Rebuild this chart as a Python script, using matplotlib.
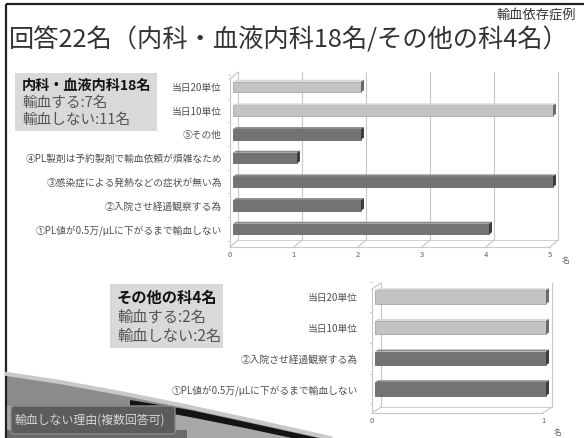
"""
Transfusion survey slide: reasons for not transfusing (two 3D-style bar panels)
"""

import matplotlib.pyplot as plt
from matplotlib.patches import Polygon, FancyBboxPatch, Rectangle

plt.rcParams['font.family'] = ['Noto Sans CJK JP', 'DejaVu Sans']

# --- data -------------------------------------------------------------
top_labels = ['①PL値が0.5万/μLに下がるまで輸血しない', '②入院させ経過観察する為',
              '③感染症による発熱などの症状が無い為', '④PL製剤は予約製剤で輸血依頼が煩雑なため',
              '⑤その他', '当日10単位', '当日20単位']
top_values = [4, 2, 5, 1, 2, 5, 2]
top_light = [False, False, False, False, False, True, True]
top_ticks = [0, 1, 2, 3, 4, 5]

bottom_labels = ['①PL値が0.5万/μLに下がるまで輸血しない', '②入院させ経過観察する為',
                 '当日10単位', '当日20単位']
bottom_values = [1, 1, 1, 1]
bottom_light = [False, False, True, True]
bottom_ticks = [0, 1]

top_box = ['内科・血液内科18名', '輸血する:7名', '輸血しない:11名']
bottom_box = ['その他の科4名', '輸血する:2名', '輸血しない:2名']

title = '回答22名（内科・血液内科18名/その他の科4名）'
subtitle = '輸血依存症例'
badge = '輸血しない理由(複数回答可)'

W, H = 584, 438
fig = plt.figure(figsize=(W / 100, H / 100), dpi=100)
fig.patch.set_facecolor('white')

# background layer in pixel coordinates
bg = fig.add_axes([0, 0, 1, 1], zorder=0)
bg.set_xlim(0, W)
bg.set_ylim(H, 0)
bg.axis('off')

# slide frame
bg.plot([6, W], [4, 4], color='#222222', lw=1.6, solid_capstyle='butt')
bg.plot([6, 6], [4, H], color='#222222', lw=1.6, solid_capstyle='butt')

# swoosh in the lower left corner
top_curve = [(7, 374), (60, 382), (120, 393), (180, 405), (240, 418), (290, 429), (330, 438)]
bg.add_patch(Polygon(top_curve + [(7, 438)], closed=True, fc='#8c8c8c', ec='none'))
bg.plot(*zip(*top_curve), color='#c8c8c8', lw=3)
band_top = [(130, 400), (190, 410), (250, 423), (300, 434), (318, 438)]
band_bot = [(292, 438), (245, 428), (190, 417), (130, 406)]
bg.add_patch(Polygon(band_bot + [(7, 406), (7, 438)], closed=True, fc='#a8a8a8', ec='none'))
bg.add_patch(Polygon(band_top + band_bot, closed=True, fc='#141414', ec='none'))
bg.add_patch(Rectangle((7, 430), 180, 8, fc='#6a6a6a', ec='none'))
bg.add_patch(FancyBboxPatch((11, 406), 164, 28, boxstyle='round,pad=0,rounding_size=3',
                            fc='#5c5c5c', ec='#8a8a8a', lw=1))
bg.text(15, 420, badge, fontsize=8.6, color='#d6d6d6', va='center', ha='left')

# title block
bg.text(576, 15, subtitle, fontsize=9.5, color='#333333', ha='right', va='center')
bg.text(9, 40, title, fontsize=18.2, color='#333333', ha='left', va='center')

# summary boxes
bg.add_patch(Rectangle((15, 73), 142, 58, fc='#d9d9d9', ec='none'))
bg.text(22, 86, top_box[0], fontsize=10.2, weight='bold', color='#111111', va='center')
bg.text(22, 103, top_box[1], fontsize=10.5, color='#555555', va='center')
bg.text(22, 120, top_box[2], fontsize=10.5, color='#555555', va='center')

bg.add_patch(Rectangle((110, 284), 113, 64, fc='#d9d9d9', ec='none'))
bg.text(117, 298, bottom_box[0], fontsize=11, weight='bold', color='#111111', va='center')
bg.text(117, 317, bottom_box[1], fontsize=11, color='#555555', va='center')
bg.text(117, 336, bottom_box[2], fontsize=11, color='#555555', va='center')


def draw_panel(box, x0, ux, row0, uy, labels, values, light, ticks,
               floor_px, top_px, dx_px, dy_px, bar_px, label_right):
    left, top, right, bottom = box
    ax = fig.add_axes([left / W, 1 - bottom / H, (right - left) / W, (bottom - top) / H],
                      zorder=2)
    ax.set_xlim((left - x0) / ux, (right - x0) / ux)
    ax.set_ylim((row0 - bottom) / uy, (row0 - top) / uy)
    ax.patch.set_alpha(0)
    for s in ax.spines.values():
        s.set_visible(False)

    dx, dy = dx_px / ux, dy_px / uy
    yf = (row0 - floor_px) / uy
    yb = yf + dy
    yt = (row0 - top_px) / uy
    grid = '#c6c6c6'

    # back wall gridlines and floor
    for t in ticks:
        ax.plot([t + dx, t + dx], [yb, yt], color=grid, lw=0.8)
        ax.plot([t, t + dx], [yf, yb], color=grid, lw=0.8)
    ax.plot([ticks[0], ticks[-1]], [yf, yf], color=grid, lw=0.8)
    ax.plot([ticks[0] + dx, ticks[-1] + dx], [yb, yb], color=grid, lw=0.6)
    # left wall
    ax.plot([0, 0], [yf, yt - dy], color=grid, lw=0.8)
    ax.plot([0, dx], [yt - dy, yt], color=grid, lw=0.8)
    for i in range(len(values) + 1):
        yy = i - 0.5
        ax.plot([-2 / ux, 0], [yy, yy], color=grid, lw=0.6)

    # bars with a small top face and a dark end face
    h = bar_px / uy
    ox = 3 / ux
    cx, cy = 3 / ux, 2 / uy
    ys = range(len(values))
    cols = ['#c3c3c3' if lt else '#737373' for lt in light]
    ax.barh(ys, values, left=ox, height=h, color=cols,
            edgecolor=['#9a9a9a' if lt else '#555555' for lt in light], lw=0.5, zorder=3)
    for y, v, lt in zip(ys, values, light):
        e = v + ox
        ax.add_patch(Polygon([(ox, y + h / 2), (ox + cx, y + h / 2 + cy),
                              (e + cx, y + h / 2 + cy), (e, y + h / 2)],
                             fc='#d8d8d8' if lt else '#8a8a8a', ec='none', zorder=3))
        ax.add_patch(Polygon([(e, y - h / 2), (e + cx, y - h / 2 + cy),
                              (e + cx, y + h / 2 + cy), (e, y + h / 2)],
                             fc='#6a6a6a' if lt else '#3c3c3c', ec='none', zorder=4))

    ax.set_yticks(list(ys))
    ax.set_yticklabels(labels, fontsize=7, color='#505050')
    ax.tick_params(axis='y', length=0, pad=(left - label_right) * 0.72)
    ax.set_xticks(ticks)
    ax.set_xticklabels([str(t) for t in ticks], fontsize=5.5, color='#606060')
    ax.tick_params(axis='x', length=0, pad=1.5)
    return ax


draw_panel((226, 66, 572, 249), 230, 64, 229, 23.67, top_labels, top_values, top_light,
           top_ticks, 247, 72, 8, 7, 10.5, 222)
bg.text(566, 261, '名', fontsize=5.5, color='#606060', ha='center', va='center')

draw_panel((368, 278, 575, 415), 372, 171, 389, 30.67, bottom_labels, bottom_values,
           bottom_light, bottom_ticks, 413, 283, 9, 6, 13.5, 358)
bg.text(558, 433, '名', fontsize=5.5, color='#606060', ha='center', va='center')

fig.savefig('out.png', dpi=100)
